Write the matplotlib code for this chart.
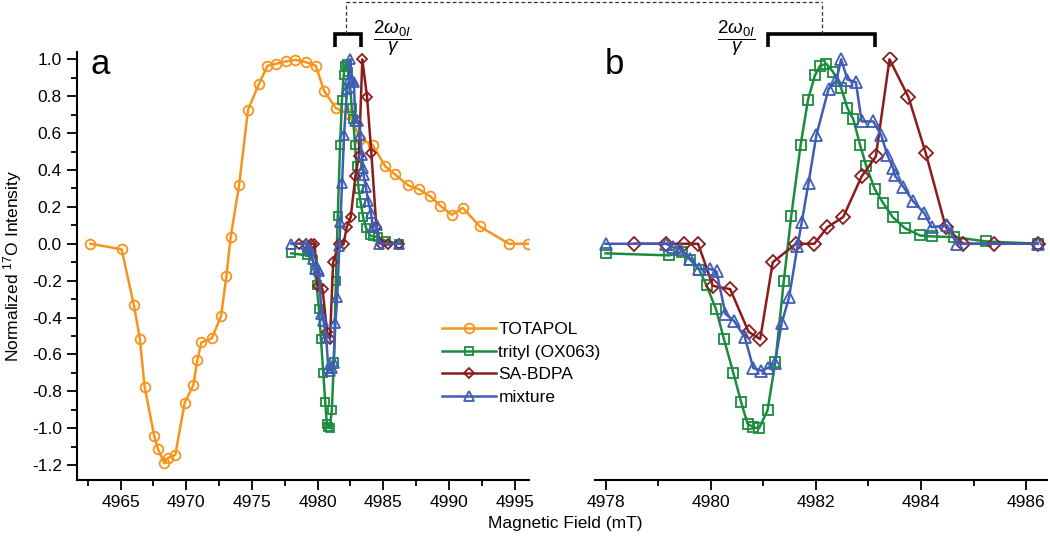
import numpy as np
import matplotlib
matplotlib.use("Agg")
import matplotlib.pyplot as plt
from matplotlib import transforms
from matplotlib.ticker import MultipleLocator

plt.rcParams['font.family'] = ['Liberation Sans', 'DejaVu Sans']
plt.rcParams['mathtext.fontset'] = 'custom'
plt.rcParams['mathtext.rm'] = 'Liberation Sans'
plt.rcParams['mathtext.it'] = 'Liberation Sans:italic'
plt.rcParams['mathtext.default'] = 'regular'

# data (field in mT, normalized intensity)
totapol_x = [4962.71, 4965.08, 4966.02, 4966.47, 4966.83, 4967.57, 4967.85, 4968.33, 4968.63,
             4969.17, 4969.88, 4970.54, 4970.84, 4971.15, 4971.94, 4972.65, 4973.06, 4973.38,
             4974.02, 4974.70, 4975.54, 4976.18, 4976.81, 4977.58, 4978.29, 4979.12, 4979.86,
             4980.50, 4981.39, 4982.40, 4983.24, 4984.18, 4985.15, 4985.88, 4986.90, 4987.69,
             4988.58, 4989.34, 4990.21, 4991.04, 4992.34, 4994.55, 4995.99]
totapol_y = [0.0, -0.03, -0.334, -0.515, -0.775, -1.044, -1.113, -1.19, -1.16,
             -1.143, -0.863, -0.766, -0.632, -0.535, -0.513, -0.392, -0.173, 0.036,
             0.316, 0.726, 0.867, 0.965, 0.975, 0.988, 0.997, 0.984, 0.965,
             0.827, 0.735, 0.704, 0.569, 0.536, 0.419, 0.376, 0.316, 0.296,
             0.257, 0.206, 0.157, 0.195, 0.094, 0.0, 0.0]

trityl_x = [4978.0, 4979.21, 4979.45, 4979.61, 4979.78, 4979.92, 4980.10, 4980.25, 4980.43,
            4980.58, 4980.70, 4980.81, 4980.92, 4981.08, 4981.23, 4981.39, 4981.53, 4981.71,
            4981.85, 4981.98, 4982.08, 4982.20, 4982.33, 4982.48, 4982.60, 4982.71, 4982.84,
            4982.96, 4983.12, 4983.28, 4983.46, 4983.69, 4983.98, 4984.20, 4984.63, 4985.23,
            4986.22]
trityl_y = [-0.052, -0.063, -0.045, -0.087, -0.14, -0.226, -0.354, -0.515, -0.70,
            -0.86, -0.975, -0.995, -1.0, -0.903, -0.64, -0.20, 0.148, 0.536,
            0.78, 0.912, 0.965, 0.975, 0.93, 0.844, 0.735, 0.676, 0.536,
            0.419, 0.296, 0.22, 0.145, 0.085, 0.045, 0.04, 0.036, 0.013,
            0.0]

bdpa_x = [4978.55, 4979.15, 4979.49, 4979.76, 4980.04, 4980.37, 4980.72, 4980.94, 4981.18,
          4981.62, 4981.97, 4982.22, 4982.52, 4982.87, 4983.14, 4983.40, 4983.76, 4984.09,
          4984.47, 4984.80, 4985.39, 4986.22]
bdpa_y = [0.0, 0.0, 0.0, 0.0, -0.228, -0.246, -0.477, -0.517, -0.10,
          0.0, 0.0, 0.09, 0.145, 0.365, 0.473, 1.0, 0.795, 0.49,
          0.09, 0.0, 0.0, 0.0]

mix_x = [4978.0, 4979.15, 4979.29, 4979.42, 4979.61, 4979.78, 4979.99, 4980.11, 4980.28,
         4980.44, 4980.65, 4980.81, 4980.96, 4981.08, 4981.22, 4981.35, 4981.49, 4981.65,
         4981.73, 4981.86, 4982.01, 4982.24, 4982.39, 4982.48, 4982.60, 4982.76, 4982.87,
         4983.09, 4983.24, 4983.36, 4983.47, 4983.50, 4983.66, 4983.85, 4984.06, 4984.20,
         4984.49, 4984.68, 4986.22]
mix_y = [0.0, 0.0, -0.02, -0.03, -0.08, -0.137, -0.137, -0.15, -0.38,
         -0.417, -0.508, -0.674, -0.688, -0.674, -0.647, -0.43, -0.29, -0.014,
         0.116, 0.33, 0.59, 0.838, 0.885, 1.0, 0.89, 0.876, 0.663,
         0.663, 0.59, 0.48, 0.41, 0.37, 0.31, 0.23, 0.166, 0.09,
         0.10, 0.0, 0.0]

series = [
    (totapol_x, totapol_y, 'TOTAPOL', '#F7941D', 'o', 7.0),
    (trityl_x, trityl_y, 'trityl (OX063)', '#1B8C3E', 's', 6.2),
    (bdpa_x, bdpa_y, 'SA-BDPA', '#8C1C1C', 'D', 5.6),
    (mix_x, mix_y, 'mixture', '#3F5DB5', '^', 7.2),
]

fig = plt.figure(figsize=(10.5, 5.46), dpi=100)
ax_a = fig.add_axes([0.0735, 0.121, 0.4305, 0.784])
ax_b = fig.add_axes([0.5667, 0.121, 0.4302, 0.784])
ax_a.patch.set_visible(False)
ax_b.patch.set_visible(False)

for x, y, lab, c, m, ms in series:
    ax_a.plot(x, y, color=c, marker=m, ms=ms, mfc='none', mew=1.3, lw=1.8, label=lab)
    if lab != 'TOTAPOL':
        ax_b.plot(x, y, color=c, marker=m, ms=ms + 1.5, mfc='none', mew=1.3, lw=1.8)

for ax in (ax_a, ax_b):
    ax.set_ylim(-1.28, 1.04)
    for s in ('top', 'right'):
        ax.spines[s].set_visible(False)
    for s in ('left', 'bottom'):
        ax.spines[s].set_linewidth(1.5)
    ax.tick_params(which='major', direction='out', length=7, width=1.3, labelsize=12.5, pad=4)
    ax.tick_params(which='minor', direction='out', length=4, width=1.3)

ax_a.set_xlim(4961.7, 4996.1)
ax_a.xaxis.set_major_locator(MultipleLocator(5))
ax_a.xaxis.set_minor_locator(MultipleLocator(2.5))
ax_a.yaxis.set_major_locator(MultipleLocator(0.2))
ax_a.yaxis.set_minor_locator(MultipleLocator(0.1))
ax_a.set_yticklabels([f'{v:.1f}' for v in ax_a.get_yticks()])
ax_a.set_ylabel('Normalized $^{17}$O Intensity', fontsize=12.5, labelpad=6)

ax_b.set_xlim(4977.8, 4986.39)
ax_b.xaxis.set_major_locator(MultipleLocator(2))
ax_b.xaxis.set_minor_locator(MultipleLocator(1))
ax_b.spines['left'].set_visible(False)
ax_b.set_yticks([])

fig.text(0.0865, 1 - 73.5 / 546, 'a', fontsize=25, va='baseline')
fig.text(0.5755, 1 - 73.5 / 546, 'b', fontsize=25, va='baseline')

fig.text(0.538, 0.033, 'Magnetic Field (mT)', fontsize=12.5, ha='center')

leg = ax_a.legend(loc='upper left', bbox_to_anchor=(0.421, 0.41), bbox_transform=fig.transFigure,
                  frameon=False, fontsize=12.5, handlelength=3.1, handletextpad=0.15,
                  labelspacing=0.42, borderpad=0, borderaxespad=0)

# 2 omega / gamma brackets above both panels
y_top, y_leg, y_dash = 1 - 34 / 546, 1 - 46.5 / 546, 1 - 1.5 / 546
tr_a = transforms.blended_transform_factory(ax_a.transData, fig.transFigure)
tr_b = transforms.blended_transform_factory(ax_b.transData, fig.transFigure)
br_a = (4981.31, 4983.29, 4982.15)
br_b = (4981.08, 4983.13, 4982.11)
for tr, (x0, x1, xm), ax in ((tr_a, br_a, ax_a), (tr_b, br_b, ax_b)):
    ax.plot([x0, x0, x1, x1], [y_leg, y_top, y_top, y_leg], transform=tr, clip_on=False,
            color='k', lw=2.6, solid_joinstyle='miter', solid_capstyle='butt')
    ax.plot([xm, xm], [y_top, y_dash], transform=tr, clip_on=False,
            color='#333333', lw=0.9, ls=(0, (3, 2)))

# horizontal dashed link between the two brackets
fa = fig.transFigure.inverted().transform(ax_a.transData.transform((br_a[2], 0)))[0]
fb = fig.transFigure.inverted().transform(ax_b.transData.transform((br_b[2], 0)))[0]
fig.lines.append(plt.Line2D([fa, fb], [y_dash, y_dash], transform=fig.transFigure,
                            color='#333333', lw=0.9, ls=(0, (3, 2))))

frac = r'$\dfrac{2\mathit{\omega}_{\mathit{0I}}}{\mathit{\gamma}}$'
ax_a.text(4985.66, 1 - 38 / 546, frac, transform=tr_a, fontsize=13.5, ha='center', va='center')
ax_b.text(4980.48, 1 - 38 / 546, frac, transform=tr_b, fontsize=13.5, ha='center', va='center')

fig.savefig('out.png', dpi=100)
